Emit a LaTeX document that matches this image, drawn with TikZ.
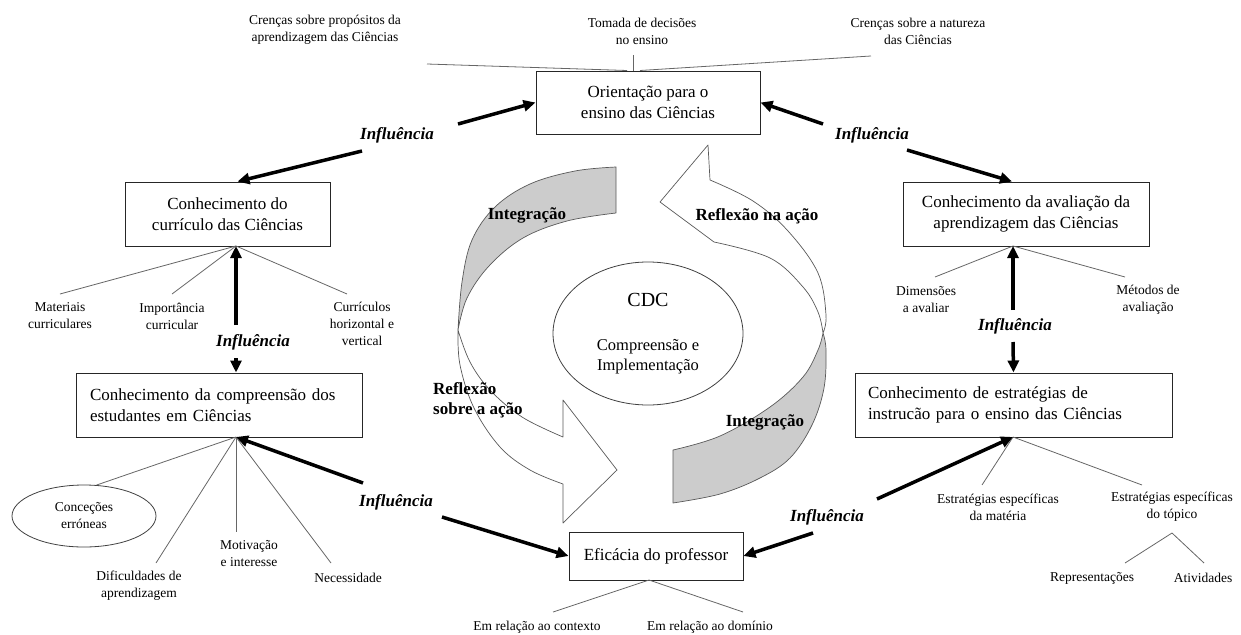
\documentclass[tikz,border=0pt]{standalone}
\usepackage{fontspec}
\setmainfont{Liberation Serif}
\usetikzlibrary{arrows.meta,shapes.geometric}

\begin{document}
\begin{tikzpicture}[x=1pt,y=-1pt,
  box/.style={draw=black!85, line width=1pt, font=\fontsize{17}{21}\selectfont, align=center, inner sep=0pt},
  lbl/.style={font=\fontsize{13.5}{17}\selectfont, align=center, inner sep=1pt},
  infl/.style={font=\fontsize{17}{20}\selectfont\bfseries\itshape, inner sep=1pt},
  cyc/.style={font=\fontsize{17}{20}\selectfont\bfseries, inner sep=1pt},
  twig/.style={draw=black!60, line width=0.8pt},
  push/.style={line width=3.5pt, -{Triangle[length=12pt,width=11pt]}},
  ribbon/.style={draw=black!65, line width=0.7pt, line join=round},
]
\useasboundingbox (0,0) rectangle (1241,634);

% ---------- central cycle ----------
% left ribbon: shaded back face, then white front with head
\filldraw[ribbon, fill=black!20] (616,167)
  -- plot[smooth, tension=0.6] coordinates {(616,167) (575,171) (530,184) (495,207) (472,240) (462,282) (458,330)}
  -- plot[smooth, tension=0.6] coordinates {(458,330) (467,298) (489,266) (523,238) (567,221) (616,213)}
  -- cycle;
\filldraw[ribbon, fill=white] (458,330)
  -- plot[smooth, tension=0.6] coordinates {(458,330) (460,365) (474,408) (500,447) (530,470) (563,484)}
  -- (563,523) -- (617,470) -- (563,400) -- (563,437)
  -- plot[smooth, tension=0.6] coordinates {(563,437) (522,417) (490,390) (470,362) (458,330)}
  -- cycle;
% right ribbon
\filldraw[ribbon, fill=black!20] (673,503)
  -- plot[smooth, tension=0.6] coordinates {(673,503) (720,494) (760,478) (790,458) (812,425) (824,388) (826,350) (823,333)}
  -- plot[smooth, tension=0.6] coordinates {(823,333) (818,350) (803,377) (770,407) (720,436) (673,450)}
  -- cycle;
\filldraw[ribbon, fill=white] (823,333)
  -- plot[smooth, tension=0.6] coordinates {(823,333) (826,315) (818,273) (788,231) (753,201) (710,180)}
  -- (708,145) -- (660,202) -- (714,242)
  -- plot[smooth, tension=0.6] coordinates {(714,242) (770,258) (803,287) (818,312) (823,333)}
  -- cycle;

\node[cyc] (intA) at (527,215) {Integração};
\node[cyc] (rna) at (757,216) {Reflexão na ação};
\node[cyc, align=left, anchor=west] (rsa) at (432,400) {Reflexão\\sobre a ação};
\node[cyc] (intB) at (765,422) {Integração};

\node[draw=black!75, line width=0.8pt, ellipse, minimum width=190, minimum height=143, inner sep=0pt] (cdc) at (648,333.5) {};
\node[font=\fontsize{20}{24}\selectfont] (cdcT) at (648,300) {CDC};
\node[font=\fontsize{16.5}{20}\selectfont, align=center] (cdcS) at (648,357) {Compreensão e\\Implementação};

% ---------- boxes ----------
\node[box, minimum width=224, minimum height=63] (ori) at (648,102.5) {Orientação para o\\ensino das Ciências};
\node[box, minimum width=205, minimum height=64] (cur) at (227.5,214) {Conhecimento do\\currículo das Ciências};
\node[box, minimum width=286, minimum height=64, text width=258, align=left] (comp) at (219,405) {Conhecimento da compreensão dos\\estudantes em Ciências};
\node[box, minimum width=246, minimum height=64] (aval) at (1026,214) {Conhecimento da avaliação da\\aprendizagem das Ciências};
\node[box, minimum width=317, minimum height=64, text width=291, align=left] (est) at (1013.5,405) {Conhecimento de estratégias de\\instrucão para o ensino das Ciências};
\node[box, minimum width=174, minimum height=48] (efi) at (656,556) {Eficácia do professor};

% ---------- orientation sub-items ----------
\node[lbl] (crp) at (325,30) {Crenças sobre propósitos da\\aprendizagem das Ciências};
\node[lbl] (tom) at (642,31) {Tomada de decisões\\no ensino};
\node[lbl] (crn) at (918,31) {Crenças sobre a natureza\\das Ciências};
\coordinate (crpE) at (427,64);
\coordinate (tomE) at (633,55);
\coordinate (crnE) at (871,56);
\draw[twig] (crpE) -- ([xshift=-21]ori.north);
\draw[twig] (tomE) -- ([xshift=-15]ori.north);
\draw[twig] (crnE) -- ([xshift=-8]ori.north);

% ---------- curriculum ----------
\coordinate (curHub) at (236,246);
\node[lbl] (mat) at (60,316) {Materiais\\curriculares};
\node[lbl] (imp) at (172,316) {Importância\\curricular};
\node[lbl] (crc) at (362,324) {Currículos\\horizontal e\\vertical};
\coordinate (matE) at (60,294);
\coordinate (impE) at (172,294);
\coordinate (crcE) at (347,294);
\draw[twig] (curHub) -- (matE);
\draw[twig] (curHub) -- (impE);
\draw[twig] (curHub) -- (crcE);
\node[infl] (inf3) at (253,342) {Influência};
\coordinate (up1) at (236,325);
\coordinate (dn1) at (236,358);
\draw[push] (up1) -- (curHub);
\draw[push] (dn1) -- ([xshift=17]comp.north);

% ---------- students' understanding ----------
\coordinate (compHub) at (236,437);
\node[lbl, draw=black!75, line width=0.8pt, ellipse, minimum width=144, minimum height=62, inner sep=0pt] (conc) at (84,516) {Conceções\\erróneas};
\node[lbl] (dif) at (139,586) {Dificuldades de\\aprendizagem};
\node[lbl] (mot) at (249,554) {Motivação\\e interesse};
\node[lbl] (nec) at (348,578) {Necessidade};
\coordinate (difE) at (156,563);
\coordinate (motE) at (236,532);
\coordinate (necE) at (331,563);
\draw[twig] (compHub) -- (conc.68);
\draw[twig] (compHub) -- (difE);
\draw[twig] (compHub) -- (motE);
\draw[twig] (compHub) -- (necE);

% ---------- teacher efficacy ----------
\coordinate (efiHub) at (649,580);
\node[lbl] (ctx) at (537,627) {Em relação ao contexto};
\node[lbl] (dom) at (710,627) {Em relação ao domínio};
\coordinate (ctxE) at (553,612);
\coordinate (domE) at (743,612);
\draw[twig] (efiHub) -- (ctxE);
\draw[twig] (efiHub) -- (domE);

% ---------- assessment ----------
\coordinate (avalHub) at (1013,246);
\node[lbl] (dim) at (926,300) {Dimensões\\a avaliar};
\node[lbl] (met) at (1148,300) {Métodos de\\avaliação};
\coordinate (dimE) at (935,277);
\coordinate (metE) at (1125,277);
\draw[twig] (avalHub) -- (dimE);
\draw[twig] (avalHub) -- (metE);
\node[infl] (inf5) at (1015,326) {Influência};
\coordinate (up2) at (1013,310);
\coordinate (dn2) at (1013,342);
\draw[push] (up2) -- (avalHub);
\draw[push] (dn2) -- (est.north);

% ---------- instructional strategies ----------
\coordinate (estHub) at (1013,437);
\node[lbl] (esm) at (998,507) {Estratégias específicas\\da matéria};
\node[lbl] (etp) at (1172,507) {Estratégias específicas\\do tópico};
\coordinate (esmE) at (982,485);
\coordinate (etpE) at (1142,485);
\draw[twig] (estHub) -- (esmE);
\draw[twig] (estHub) -- (etpE);
\coordinate (topHub) at (1172,533);
\node[lbl] (rep) at (1092,578) {Representações};
\node[lbl] (ati) at (1203,578) {Atividades};
\coordinate (repE) at (1125,563);
\coordinate (atiE) at (1204,563);
\draw[twig] (topHub) -- (repE);
\draw[twig] (topHub) -- (atiE);

% ---------- influence arrows ----------
\node[infl] (inf1) at (397,135) {Influência};
\coordinate (s1a) at (458,124);
\coordinate (s1b) at (362,151);
\draw[push] (s1a) -- (ori.west);
\draw[push] (s1b) -- ([xshift=10]cur.north);

\node[infl] (inf2) at (872,135) {Influência};
\coordinate (s2a) at (823,124);
\coordinate (s2b) at (907,150);
\draw[push] (s2a) -- (ori.east);
\draw[push] (s2b) -- ([xshift=-14]aval.north);

\node[infl] (inf4) at (396,502) {Influência};
\coordinate (s4a) at (363,483);
\coordinate (s4b) at (442,517);
\draw[push] (s4a) -- (compHub);
\draw[push] (s4b) -- (efi.west);

\node[infl] (inf6) at (827,517) {Influência};
\coordinate (s6a) at (877,499);
\coordinate (s6b) at (813,533);
\draw[push] (s6a) -- (estHub);
\draw[push] (s6b) -- (efi.east);
\end{tikzpicture}
\end{document}
